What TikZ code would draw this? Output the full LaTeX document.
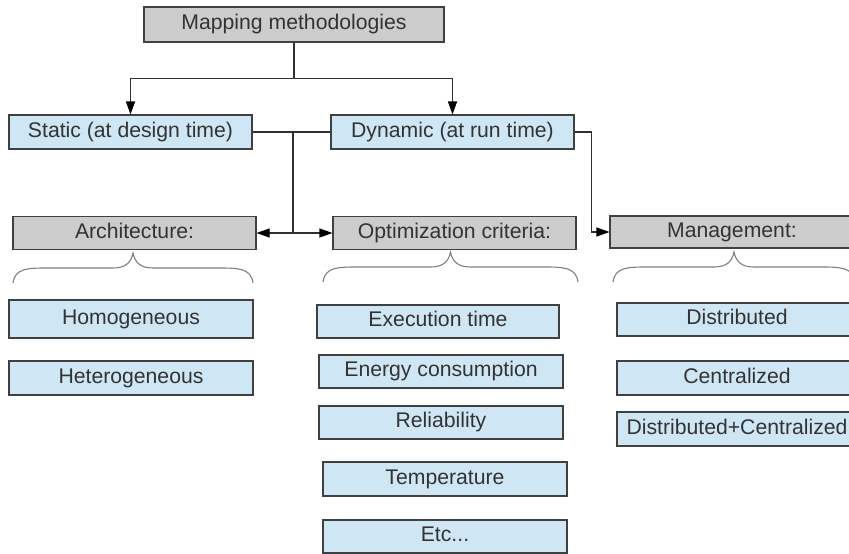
\documentclass[tikz,border=0pt]{standalone}
\usepackage{fontspec}
\setmainfont{Liberation Sans}
\usetikzlibrary{arrows.meta}
\definecolor{txt}{HTML}{333333}
\definecolor{bord}{HTML}{404040}
\definecolor{grayfill}{HTML}{CCCCCC}
\definecolor{bluefill}{HTML}{CFE6F4}
\definecolor{bracecol}{HTML}{808080}
\definecolor{linecol}{HTML}{303030}
\tikzset{
  basebox/.style={draw=bord, line width=1.1pt, inner sep=0pt, text=txt,
    font=\fontsize{21.2}{25}\selectfont, text height=15pt, text depth=4.5pt},
  graybox/.style={basebox, fill=grayfill},
  bluebox/.style={basebox, fill=bluefill},
  conn/.style={draw=linecol, line width=1.1pt},
  arr/.style={conn, -{Triangle[length=13pt,width=9pt,color=black]}},
  bracestyle/.style={draw=bracecol, line width=1.1pt}
}
\newcommand{\mybrace}[5]{% L R T H B
  \draw[bracestyle] (#1,#5) .. controls (#1+2,#4) and (#1+15,#4) .. (#1+35,#4)
    -- ({(#1+#2)/2-20},#4) .. controls ({(#1+#2)/2-8},#4) and ({(#1+#2)/2-2},#4-5) .. ({(#1+#2)/2},#3)
    .. controls ({(#1+#2)/2+2},#4-5) and ({(#1+#2)/2+8},#4) .. ({(#1+#2)/2+20},#4)
    -- (#2-35,#4) .. controls (#2-15,#4) and (#2-2,#4) .. (#2,#5);}
\begin{document}
\begin{tikzpicture}[x=1pt,y=-1pt]
\useasboundingbox[fill=white] (0,0) rectangle (849,554);
% top
\node[graybox, minimum width=300pt, minimum height=35pt] (map) at (294,24.5) {Mapping methodologies};
\node[bluebox, minimum width=243pt, minimum height=34pt] (static) at (130.5,132) {Static (at design time)};
\node[bluebox, minimum width=243pt, minimum height=34pt] (dyn) at (452.5,132) {Dynamic (at run time)};
% headers
\node[graybox, minimum width=243pt, minimum height=33pt] (arch) at (134.5,233) {Architecture:};
\node[graybox, minimum width=243pt, minimum height=33pt] (opt) at (454.5,233) {Optimization criteria:};
\node[graybox, minimum width=244pt, minimum height=32pt] (mgmt) at (732,232) {Management:};
% architecture items
\node[bluebox, minimum width=244pt, minimum height=38pt] (homo) at (131,319) {Homogeneous};
\node[bluebox, minimum width=244pt, minimum height=34pt] (hete) at (131,378) {Heterogeneous};
% optimization items
\node[bluebox, minimum width=242pt, minimum height=33pt] (exec) at (438,321.5) {Execution time};
\node[bluebox, minimum width=244pt, minimum height=33pt] (energy) at (441,371.5) {Energy consumption};
\node[bluebox, minimum width=244pt, minimum height=33pt] (rel) at (441,422.5) {Reliability};
\node[bluebox, minimum width=244pt, minimum height=34pt] (temp) at (445,479) {Temperature};
\node[bluebox, minimum width=244pt, minimum height=33pt] (etc) at (445,536.5) {Etc...};
% management items
\node[bluebox, minimum width=240pt, minimum height=33pt] (distr) at (737,319.5) {Distributed};
\node[bluebox, minimum width=240pt, minimum height=34pt] (central) at (737,378) {Centralized};
\node[bluebox, minimum width=240pt, minimum height=34pt] (dc) at (737,429) {Distributed+Centralized};
% connectors
\draw[conn] (map.south) -- ++(0,36) coordinate (j1);
\draw[arr] (j1) -| (static.north);
\draw[arr] (j1) -| (dyn.north);
\draw[conn] (static.east) -- (dyn.west);
\coordinate (j2) at (293,132);
\coordinate (j3) at (293,233);
\draw[conn, line width=1.6pt] (j2) -- (j3);
\draw[arr] (j3) -- (arch.east);
\draw[arr] (j3) -- (opt.west);
\draw[conn] (dyn.east) -- ++(17,0) coordinate (j4);
\draw[arr] (j4) |- (mgmt.west);
% braces
\mybrace{13}{253}{253}{268}{283}
\mybrace{323}{578}{252}{267}{282}
\mybrace{613}{855}{252}{267}{282}
\end{tikzpicture}
\end{document}
